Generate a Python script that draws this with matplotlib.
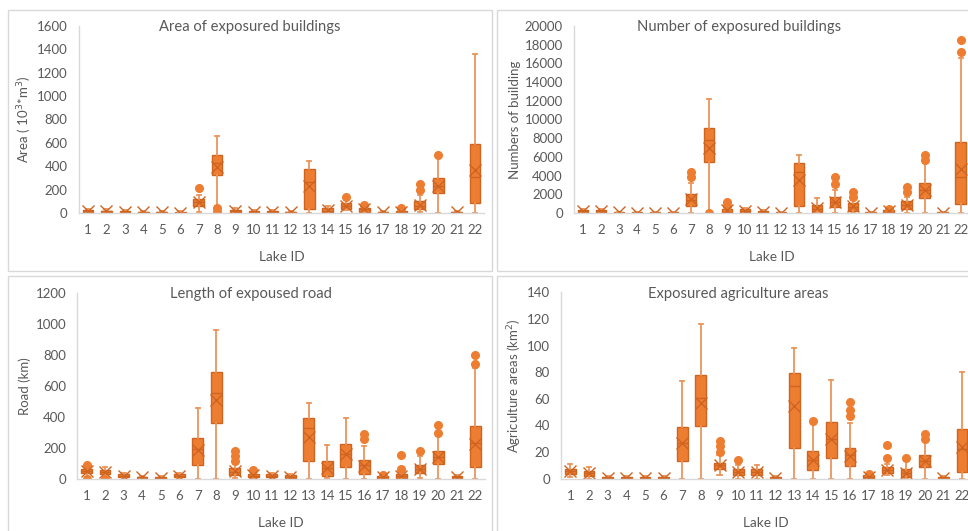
import matplotlib
matplotlib.use("Agg")
import matplotlib.pyplot as plt
from matplotlib.patches import Rectangle

plt.rcParams['font.family'] = ['Lato', 'DejaVu Sans']

lake_ids = [str(i) for i in range(1, 23)]

# ---------- Area of exposured buildings ----------
area_low  = [0, 0, 0, 0, 0, 0, 5, 60, 0, 0, 0, 0, 0, 0, 25, 0, 0, 0, 5, 0, 0, 0]
area_q1   = [8, 8, 3, 2, 2, 1, 60, 325, 10, 3, 3, 2, 38, 8, 35, 12, 2, 3, 30, 170, 2, 82]
area_med  = [14, 14, 8, 5, 5, 3, 95, 430, 18, 8, 7, 6, 265, 20, 60, 30, 5, 8, 60, 230, 5, 305]
area_q3   = [22, 20, 14, 10, 9, 7, 120, 500, 28, 14, 13, 12, 378, 42, 85, 45, 10, 16, 100, 298, 12, 590]
area_high = [35, 32, 25, 20, 18, 15, 150, 655, 40, 22, 22, 20, 448, 62, 110, 60, 18, 30, 150, 475, 20, 1360]
area_mean = [15, 14, 9, 6, 6, 4, 97, 395, 20, 9, 8, 7, 235, 25, 60, 32, 6, 10, 70, 235, 7, 365]
area_out  = [[], [], [], [], [], [], [215], [40, 5], [], [], [], [], [], [], [138], [72], [], [43], [200, 250], [500], [], []]

# ---------- Number of exposured buildings ----------
num_low  = [0, 0, 0, 0, 0, 0, 0, 250, 0, 0, 0, 0, 0, 0, 0, 0, 0, 0, 0, 0, 0, 0]
num_q1   = [120, 120, 10, 10, 10, 10, 780, 5480, 50, 150, 50, 10, 780, 60, 660, 180, 10, 50, 380, 1620, 10, 980]
num_med  = [200, 200, 40, 30, 30, 30, 1430, 7820, 150, 250, 120, 30, 4400, 450, 1180, 640, 30, 150, 820, 2440, 30, 3870]
num_q3   = [300, 300, 90, 70, 70, 60, 2000, 9070, 450, 380, 220, 70, 5300, 900, 1720, 1040, 60, 300, 1250, 3230, 70, 7560]
num_high = [420, 400, 150, 130, 120, 110, 3200, 12200, 650, 500, 320, 120, 6250, 1650, 2450, 1400, 110, 420, 1750, 5300, 130, 16600]
num_mean = [220, 210, 60, 50, 45, 40, 1550, 6920, 300, 260, 140, 40, 3500, 500, 1200, 700, 40, 180, 860, 2500, 40, 4700]
num_out  = [[], [], [], [], [], [], [3800, 4350], [50], [800, 1150], [], [], [], [], [], [3150, 3800],
            [1750, 2200], [], [480], [2200, 2750], [5650, 6150], [], [17250, 18450]]

# ---------- Length of expoused road ----------
road_low  = [12, 5, 5, 0, 0, 5, 0, 0, 5, 3, 3, 0, 0, 5, 0, 0, 0, 0, 5, 0, 0, 0]
road_q1   = [36, 32, 15, 6, 2, 15, 90, 358, 28, 15, 15, 8, 115, 17, 78, 32, 3, 8, 40, 95, 5, 80]
road_med  = [50, 45, 22, 10, 5, 22, 195, 557, 45, 22, 22, 15, 330, 70, 160, 92, 10, 18, 65, 140, 10, 230]
road_q3   = [62, 58, 30, 15, 10, 30, 262, 692, 68, 32, 30, 25, 390, 118, 225, 125, 18, 30, 88, 180, 18, 340]
road_high = [78, 75, 38, 22, 18, 38, 458, 962, 95, 45, 40, 35, 492, 222, 395, 215, 22, 45, 145, 275, 25, 715]
road_mean = [50, 45, 22, 11, 6, 22, 190, 510, 50, 24, 22, 16, 272, 72, 158, 83, 10, 22, 66, 140, 11, 225]
road_out  = [[92, 2], [2], [], [], [], [], [], [], [115, 150, 180], [55], [], [], [], [], [],
             [255, 292], [25], [65, 152], [182], [298, 345], [], [742, 797]]

# ---------- Exposured agriculture areas ----------
agri_low  = [1, 0, 0, 0, 0, 0, 0, 0, 3, 0, 0, 0, 0, 0, 0, 0, 0, 3, 0, 0, 0, 0]
agri_q1   = [3.3, 1.8, 0.2, 0.2, 0.2, 0.2, 13.3, 39.3, 7, 2.5, 2.5, 0.2, 22.8, 6.3, 15.3, 9.3, 0.3, 4.3, 1.3, 8.5, 0.2, 5]
agri_med  = [5.5, 4, 0.5, 0.5, 0.5, 0.5, 26.5, 60.8, 10, 5, 5, 0.5, 69.5, 14, 30, 17.5, 1, 6.5, 4.5, 13, 0.5, 22]
agri_q3   = [7.5, 6, 1, 1, 1, 1, 38.5, 78, 12, 7.3, 7.5, 1, 79.3, 20.8, 42.5, 22.8, 2.5, 8.8, 7.5, 17.8, 1, 37.5]
agri_high = [11, 8.5, 2, 2, 2, 2, 73.5, 116, 18, 10, 10.5, 2, 98.5, 41, 74, 41.8, 3, 11, 13, 28, 2, 80]
agri_mean = [5.5, 4, 0.6, 0.6, 0.6, 0.6, 26.7, 57, 10, 5, 5, 0.6, 54.5, 14, 30, 17, 1.5, 6.5, 4.5, 13.5, 0.6, 23.7]
agri_out  = [[], [], [], [], [], [], [], [], [19.8, 24.2, 28.5], [14], [], [], [], [43.7], [],
             [47.3, 51.3, 57.5], [3.5], [15.8, 25], [15.5], [30, 33.2], [], []]

TEXT = '#595959'
FILL = '#ED7D31'
EDGE = '#CF6421'
WHISK = '#EA955B'
GRID = '#D9D9D9'

W, H = 968, 531
fig = plt.figure(figsize=(W / 100, H / 100), dpi=100)
fig.patch.set_facecolor('white')


def fx(px):
    return px / W


def fy(py):
    return 1 - py / H


# panel frames
for (x0, y0, x1, y1) in [(8, 10, 492, 271), (497, 10, 990, 271), (8, 276, 492, 540), (497, 276, 990, 540)]:
    fig.patches.append(Rectangle((fx(x0), fy(y1)), fx(x1 - x0), (y1 - y0) / H,
                                 transform=fig.transFigure, fill=False,
                                 edgecolor=GRID, linewidth=1.0, zorder=0))


def draw(ax_box, low, q1, med, q3, high, mean, outs, ymax, ystep, title, title_xy, ylabel, ylabel_x, xlabel_y):
    x0, x1, ytop, ybot = ax_box
    ax = fig.add_axes([fx(x0), fy(ybot), fx(x1 - x0), (ybot - ytop) / H])
    stats = []
    for i in range(len(lake_ids)):
        stats.append(dict(whislo=low[i], q1=q1[i], med=med[i], q3=q3[i], whishi=high[i],
                          mean=mean[i], fliers=outs[i], label=lake_ids[i]))
    ax.bxp(stats, positions=range(1, 23), widths=0.58, patch_artist=True,
           showmeans=True, capwidths=0.22,
           boxprops=dict(facecolor=FILL, edgecolor=EDGE, linewidth=1.0),
           medianprops=dict(color=EDGE, linewidth=1.0),
           whiskerprops=dict(color=WHISK, linewidth=1.3),
           capprops=dict(color=WHISK, linewidth=1.3),
           meanprops=dict(marker='x', markeredgecolor=EDGE, markersize=8, markeredgewidth=1.0),
           flierprops=dict(marker='o', markerfacecolor=FILL, markeredgecolor=FILL, markersize=5.5))
    ax.set_xlim(0.5, 22.5)
    ax.set_ylim(0, ymax)
    ax.set_yticks(range(0, ymax + 1, ystep))
    ax.set_xticks(range(1, 23))
    ax.set_xticklabels(lake_ids)
    for s in ['top', 'right']:
        ax.spines[s].set_visible(False)
    for s in ['left', 'bottom']:
        ax.spines[s].set_color(GRID)
        ax.spines[s].set_linewidth(1.0)
    ax.tick_params(axis='both', length=0, colors=TEXT, labelsize=9.5)
    ax.tick_params(axis='x', pad=8)
    ax.tick_params(axis='y', pad=8)
    ax.set_facecolor('none')
    fig.text(fx(title_xy[0]), fy(title_xy[1]), title, ha='center', va='center', color=TEXT, fontsize=10.6)
    fig.text(fx(ylabel_x), fy((ytop + ybot) / 2), ylabel, ha='center', va='center', rotation=90,
             color=TEXT, fontsize=9.5)
    fig.text(fx((x0 + x1) / 2), fy(xlabel_y), 'Lake ID', ha='center', va='center', color=TEXT, fontsize=9.8)
    return ax


draw((78.8, 484.3, 26, 213), area_low, area_q1, area_med, area_q3, area_high, area_mean, area_out,
     1600, 200, 'Area of exposured buildings', (250, 27), 'Area ( 10$^{3}$*m$^{3}$)', 25, 257)
draw((574, 969.6, 26, 213), num_low, num_q1, num_med, num_q3, num_high, num_mean, num_out,
     20000, 2000, 'Number of exposured buildings', (739, 27), 'Numbers of building', 515, 257)
draw((77.3, 484.7, 292.7, 479), road_low, road_q1, road_med, road_q3, road_high, road_mean, road_out,
     1200, 200, 'Length of expoused road', (251, 294), 'Road (km)', 25, 523)
draw((561, 971.3, 292.3, 478.7), agri_low, agri_q1, agri_med, agri_q3, agri_high, agri_mean, agri_out,
     140, 20, 'Exposured agriculture areas', (738, 294), 'Agriculture areas (km$^{2}$)', 515, 523)

fig.savefig('out.png', dpi=100)
